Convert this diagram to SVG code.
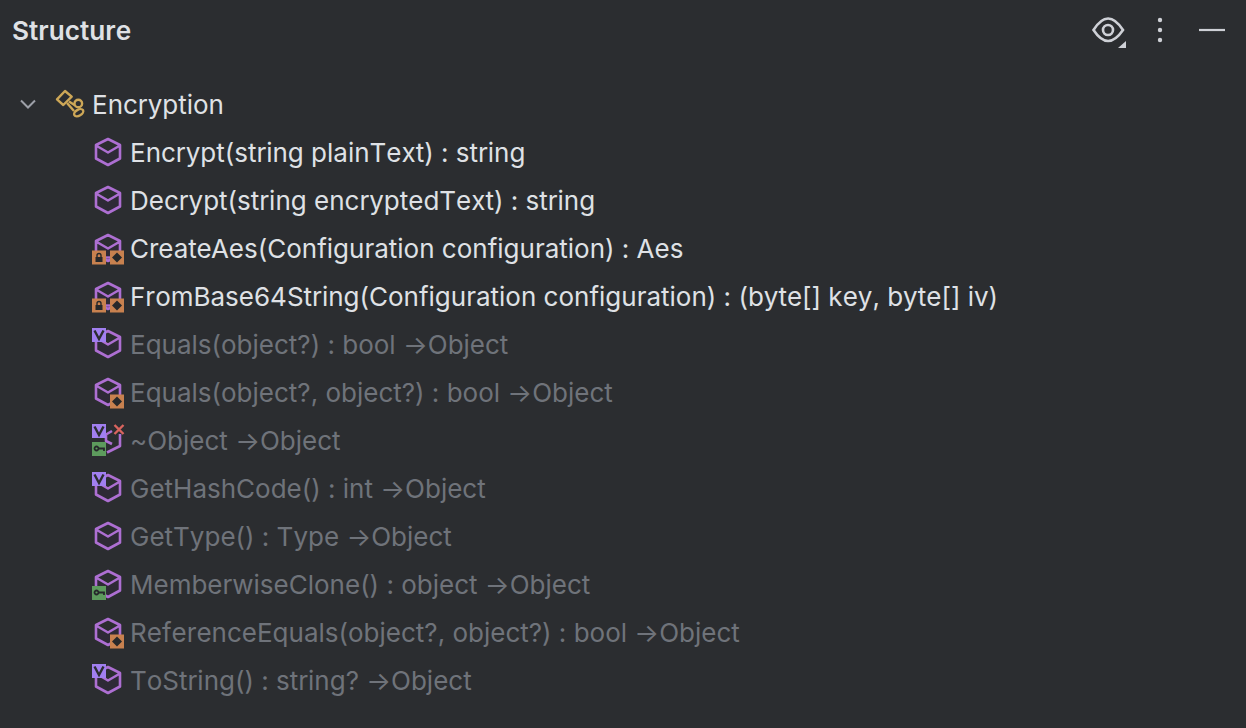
<svg xmlns="http://www.w3.org/2000/svg" width="1246" height="728" viewBox="0 0 1246 728">
<style>
text{font-family:Inter,"Noto Sans","Liberation Sans",sans-serif;font-size:26px;font-feature-settings:"calt" 0;font-kerning:none}
.t{fill:#dfe1e5}.g{fill:#6f737a}
.kern{font-kerning:normal}
.title{font-size:26.200px;font-weight:600;fill:#dfe1e5}
.c{fill:none;stroke:#ad6fd2;stroke-width:2.6;stroke-linejoin:round}
.cd{fill:#2e2a36}
.v{fill:#a17ff0}.vt{fill:none;stroke:#2b2d30;stroke-width:2.4}
.k{fill:#5d9b5d}.o{fill:#c8814f}.d{fill:#26282b}
.ic{fill:none;stroke:#ced0d6;stroke-width:2.6}
</style>
<defs>
<g id="cube"><path class="cd" d="M-11-5 0 1 11-5V6L0 12-11 6Z"/><path class="c" d="M0-13 12-7V6.500L0 13-12 6.500V-7ZM-12-6.500 0 .5 12-6.500"/></g>
<g id="vb"><rect class="v" x="-7" y="-7" width="14" height="14"/><path class="vt" d="M-4.500-4.500 0 4 4.500-4.500"/></g>
<g id="kb"><rect class="k" x="-7" y="-7" width="14" height="14"/><circle cx="-2.500" cy="-.5" r="2" fill="none" stroke="#26282b" stroke-width="1.800"/><path d="M-.5-.5H5V2" fill="none" stroke="#26282b" stroke-width="1.800"/></g>
<g id="ob"><rect class="o" x="-7" y="-7" width="14" height="14"/><path class="d" d="M0-5 5 0 0 5-5 0Z"/></g>
<g id="lb"><rect class="o" x="-7" y="-7" width="14" height="14"/><rect class="d" x="-3.500" y="-.5" width="7" height="5"/><path d="M-2-.5V-2a2 2 0 0 1 4 0V-.5" fill="none" stroke="#26282b" stroke-width="1.400"/></g>
<g id="lockdia"><use href="#lb" x="-9" y="9.500"/><use href="#ob" x="9" y="9.500"/><path d="M-2 9.500H2" stroke="#ad6fd2" stroke-width="2.400"/></g>
</defs>
<rect width="1246" height="728" fill="#2b2d30"/>
<text class="title" x="12" y="40">Structure</text>
<g id="toolbar">
<path class="ic" d="M1093.500 30Q1108 7 1123 30Q1108 52 1093.500 30Z"/><circle class="ic" cx="1108" cy="30" r="5"/>
<path d="M1126 41V48H1118Z" fill="#ced0d6"/>
<circle cx="1160" cy="20" r="2.200" fill="#ced0d6"/><circle cx="1160" cy="30" r="2.200" fill="#ced0d6"/><circle cx="1160" cy="40" r="2.200" fill="#ced0d6"/>
<path d="M1199 30H1225" stroke="#ced0d6" stroke-width="2.200"/>
</g>
<g id="connectors"/>
<g id="encryption">
<path d="M21 100.500 28 107.500 35 100.500" fill="none" stroke="#9da0a8" stroke-width="2"/>
<g fill="none" stroke="#cda757" stroke-width="2.400" stroke-linejoin="round"><path d="M57 99.300 65 91 71.700 96.700 63.300 105Z"/><path d="M69 101.500 74.500 105M67 103 74 111"/><circle cx="78.300" cy="103.500" r="3.800"/><ellipse cx="78.700" cy="112.700" rx="5" ry="3" transform="rotate(-30 78.700 112.700)"/></g>
<text class="t" x="92" y="114">Encryption</text>
</g>
<g id="m1"><use href="#cube" x="108" y="152"/><text class="t" x="130" y="162">Encrypt(string plainText) : string</text></g>
<g id="m2"><use href="#cube" x="108" y="200"/><text class="t" x="130" y="210">Decrypt(string encryptedText) : string</text></g>
<g id="m3"><use href="#cube" x="108" y="248"/><use href="#lockdia" x="108" y="248"/><text class="t kern" x="130" y="258">CreateAes(Configuration configuration) : Aes</text></g>
<g id="m4"><use href="#cube" x="108" y="296"/><use href="#lockdia" x="108" y="296"/><text class="t" x="130" y="306">FromBase64String(Configuration configuration) : (byte[] key, byte[] iv)</text></g>
<g id="m5"><use href="#cube" x="108" y="344"/><use href="#vb" x="99" y="335"/><text class="g" x="130" y="354">Equals(object?) : bool →Object</text></g>
<g id="m6"><use href="#cube" x="108" y="392"/><use href="#ob" x="117" y="401.500"/><text class="g" x="130" y="402">Equals(object?, object?) : bool →Object</text></g>
<g id="m7"><path class="c" d="M112 431 106 434.500V441L112 444M120 434V446L107 452.500"/><use href="#vb" x="99" y="431"/><use href="#kb" x="99" y="449"/><path d="M114.500 425 123.500 434M123.500 425 114.500 434" stroke="#d9645e" stroke-width="2.400" fill="none"/><text class="g" x="130" y="450">~Object →Object</text></g>
<g id="m8"><use href="#cube" x="108" y="488"/><use href="#vb" x="99" y="479"/><text class="g" x="130" y="498">GetHashCode() : int →Object</text></g>
<g id="m9"><use href="#cube" x="108" y="536"/><text class="g" x="130" y="546">GetType() : Type →Object</text></g>
<g id="m10"><use href="#cube" x="108" y="584"/><use href="#kb" x="99" y="593"/><text class="g" x="130" y="594">MemberwiseClone() : object →Object</text></g>
<g id="m11"><use href="#cube" x="108" y="632"/><use href="#ob" x="117" y="641.500"/><text class="g" x="130" y="642">ReferenceEquals(object?, object?) : bool →Object</text></g>
<g id="m12"><use href="#cube" x="108" y="680"/><use href="#vb" x="99" y="671"/><text class="g" x="130" y="690">ToString() : string? →Object</text></g>
</svg>
